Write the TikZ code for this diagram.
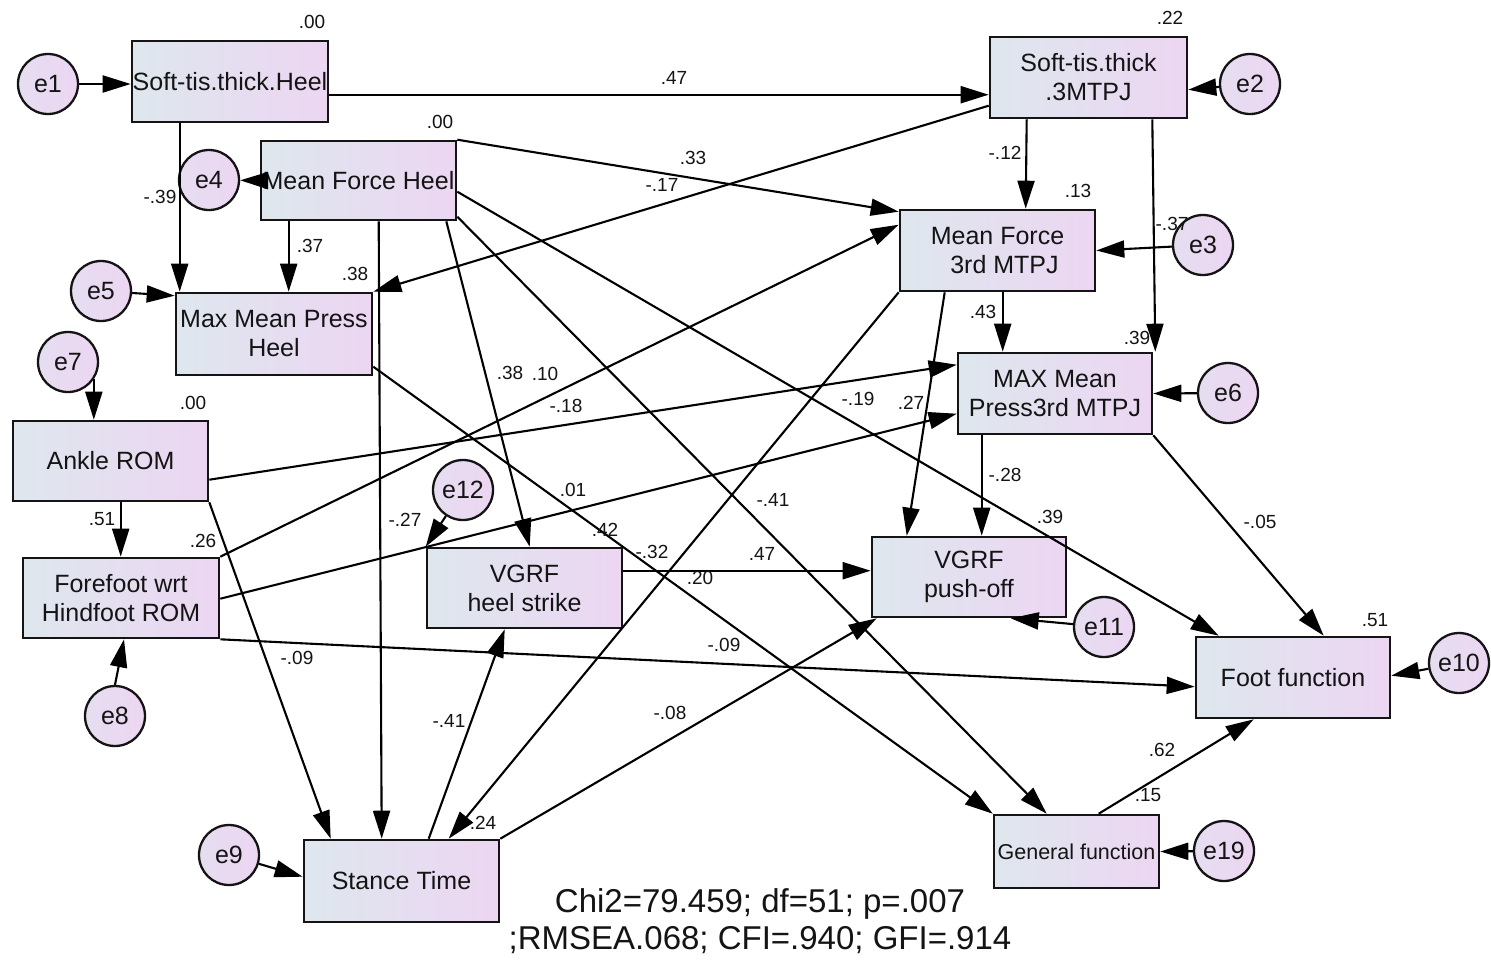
\documentclass[tikz,border=0pt]{standalone}
\usepackage{fontspec}
\setmainfont{Liberation Sans}
\usetikzlibrary{arrows.meta,calc}
\pgfdeclarelayer{bg}
\pgfsetlayers{bg,main}
\definecolor{boxL}{RGB}{222,231,238}
\definecolor{boxR}{RGB}{236,214,242}
\definecolor{ink}{RGB}{20,20,20}

\begin{document}
\begin{tikzpicture}[x=1pt,y=-1pt,
  var/.style={draw=ink, line width=2.6pt, left color=boxL, right color=boxR,
    inner sep=0pt, align=center, text=ink,
    minimum width=195, minimum height=80, font=\fontsize{25}{29}\selectfont},
  err/.style={circle, draw=ink, line width=2.3pt, minimum size=60, inner sep=0pt,
    left color=boxL!45!boxR, right color=boxR, text=ink,
    font=\fontsize{25}{29}\selectfont},
  arr/.style={line width=2.1pt, draw=black, -{Triangle[length=28pt,width=17pt]}},
  coef/.style={font=\fontsize{19}{22}\selectfont, text=ink, inner sep=0pt}
]
\begin{pgfonlayer}{bg}
\fill[white] (0,0) rectangle (1491,962);
\end{pgfonlayer}
\useasboundingbox (0,0) rectangle (1491,962);

% observed variables
\node[var, minimum width=196, minimum height=81] (SH) at (230,81.5) {Soft-tis.thick.Heel};
\node[var, minimum width=197, minimum height=81] (S3) at (1088.5,77.5) {Soft-tis.thick\\.3MTPJ};
\node[var, minimum height=79] (MFH) at (358.5,180.5) {Mean Force Heel};
\node[var, minimum height=81] (MF3) at (997.5,250.5) {Mean Force\\\ \ 3rd MTPJ};
\node[var, minimum width=196, minimum height=82] (MMPH) at (274,334) {Max Mean Press\\Heel};
\node[var, minimum width=194, minimum height=81] (MMP3) at (1055,393.5) {MAX Mean\\Press3rd MTPJ};
\node[var] (AR) at (110.5,461) {Ankle ROM};
\node[var, minimum width=196] (FF) at (121,598) {Forefoot wrt\\Hindfoot ROM};
\node[var] (VHS) at (524.5,588) {VGRF\\heel strike};
\node[var, minimum width=194] (VPO) at (969,577) {VGRF\\push-off};
\node[var, minimum width=194, minimum height=81] (FootF) at (1293,677.5) {Foot function};
\node[var, minimum width=165, minimum height=73, font=\fontsize{21.5}{25}\selectfont] (GF) at (1076.5,851.5) {General function};
\node[var, minimum height=82] (ST) at (401.5,881) {Stance Time};

% error terms
\node[err] (e1) at (48,84) {e1};
\node[err] (e2) at (1250,84) {e2};
\node[err] (e3) at (1203,245) {e3};
\node[err] (e4) at (209,180) {e4};
\node[err] (e5) at (101,291) {e5};
\node[err] (e6) at (1228,393) {e6};
\node[err] (e7) at (68,362) {e7};
\node[err] (e8) at (115,716) {e8};
\node[err] (e9) at (229,855) {e9};
\node[err] (e10) at (1459,663) {e10};
\node[err] (e11) at (1104,627) {e11};
\node[err] (e12) at (463,490) {e12};
\node[err] (e19) at (1224,851) {e19};

% paths
\draw[arr] (e1.east) -- (e1.east -| SH.west);
\draw[arr] ($(SH.north east)+(0,55)$) -- ($(S3.north west)+(0,59)$);
\draw[arr] (e2) -- ($(S3.north east)+(0,54)$);
\draw[arr] ($(SH.south west)+(49,0)$) -- ($(MMPH.north west)+(5,0)$);
\draw[arr] (MFH.west) -- (e4);
\draw[arr] ($(MFH.south west)+(29,0)$) -- ($(MMPH.north west)+(114,0)$);
\draw[arr] (e5) -- ($(MMPH.north west)+(0,4)$);
\draw[arr] ($(S3.north west)+(0,70)$) -- (MMPH.north east);
\draw[arr] (MFH.north east) -- ($(MF3.north west)+(0,3)$);
\draw[arr] ($(S3.south west)+(38,0)$) -- ($(MF3.north west)+(127,0)$);
\draw[arr] ($(S3.south east)+(-36,0)$) -- ($(MMP3.north east)+(2,0)$);
\draw[arr] (e3) -- (MF3.east);
\draw[arr] ($(MF3.south west)+(104,0)$) -- ($(MMP3.north west)+(46,0)$);
\draw[arr] ($(MF3.south west)+(46,0)$) -- ($(VPO.north west)+(36,0)$);
\draw[arr] (MF3.south west) -- ($(ST.north west)+(146,0)$);
\draw[arr] ($(MMP3.south west)+(25,0)$) -- ($(VPO.north west)+(111,0)$);
\draw[arr] (e6) -- (MMP3.east);
\draw[arr] (MMP3.south east) -- ($(FootF.north west)+(129,0)$);
\draw[arr] (e7.-34) -- (e7.-34 |- AR.north);
\draw[arr] ($(AR.north east)+(0,60)$) -- ($(MMP3.north west)+(0,13)$);
\draw[arr] ($(AR.south west)+(109,0)$) -- ($(FF.north west)+(99,0)$);
\draw[arr] (AR.south east) -- ($(ST.north west)+(28,0)$);
\draw[arr] (FF.north east) -- ($(MF3.north west)+(0,16)$);
\draw[arr] ($(FF.north east)+(0,42)$) -- ($(MMP3.north west)+(0,62)$);
\draw[arr] (FF.south east) -- ($(FootF.north west)+(0,51)$);
\draw[arr] (e8.north) -- ($(FF.south)+(3,0)$);
\draw[arr] ($(MFH.south east)+(-11,0)$) -- ($(VHS.north west)+(104,0)$);
\draw[arr] ($(MFH.south west)+(119,0)$) -- ($(ST.north west)+(79,0)$);
\draw[arr] ($(MFH.north east)+(0,52)$) -- ($(FootF.north west)+(24,0)$);
\draw[arr] ($(MFH.north east)+(0,77)$) -- ($(GF.north west)+(54,0)$);
\draw[arr] ($(MMPH.north east)+(0,75)$) -- (GF.north west);
\draw[arr] ($(VHS.north east)+(0,24)$) -- ($(VPO.north west)+(0,35)$);
\draw[arr] ($(ST.north west)+(126,0)$) -- ($(VHS.south west)+(79,0)$);
\draw[arr] (ST.north east) -- ($(VPO.south west)+(6,0)$);
\draw[arr] ($(GF.north west)+(106,0)$) -- ($(FootF.south west)+(59,0)$);
\draw[arr] (e10) -- ($(FootF.north east)+(0,40)$);
\draw[arr] (e11) -- ($(VPO.south west)+(140,0)$);
\draw[arr] (e19) -- (GF.east);
\draw[arr] (e12) -- (VHS.north west);
\draw[arr] (e9) -- ($(ST.north west)+(0,38)$);

% squared multiple correlations
\node[coef] (rSH) at (312,22) {.00};
\node[coef] (rS3) at (1170,18) {.22};
\node[coef] (rMFH) at (440,122) {.00};
\node[coef] (rMF3) at (1078,191) {.13};
\node[coef] (rMMPH) at (355,274) {.38};
\node[coef] (rMMP3) at (1137,338) {.39};
\node[coef] (rAR) at (193,403) {.00};
\node[coef] (rFF) at (203,541) {.26};
\node[coef] (rVHS) at (605,530) {.42};
\node[coef] (rVPO) at (1050,517) {.39};
\node[coef] (rFootF) at (1375,620) {.51};
\node[coef] (rGF) at (1148,795) {.15};
\node[coef] (rST) at (483,823) {.24};

% path coefficients
\node[coef] (c1) at (674,78) {.47};
\node[coef] (c2) at (160,197) {-.39};
\node[coef] (c3) at (693,158) {.33};
\node[coef] (c4) at (662,185) {-.17};
\node[coef] (c5) at (1005,153) {-.12};
\node[coef] (c6) at (1172,224) {-.37};
\node[coef] (c7) at (310,246) {.37};
\node[coef] (c8) at (983,312) {.43};
\node[coef] (c9) at (510,373) {.38};
\node[coef] (c10) at (545,374) {.10};
\node[coef] (c11) at (566,406) {-.18};
\node[coef] (c12) at (858,399) {-.19};
\node[coef] (c13) at (911,403) {.27};
\node[coef] (c14) at (573,490) {.01};
\node[coef] (c15) at (773,500) {-.41};
\node[coef] (c16) at (1005,475) {-.28};
\node[coef] (c17) at (102,519) {.51};
\node[coef] (c18) at (1260,522) {-.05};
\node[coef] (c19) at (405,520) {-.27};
\node[coef] (c20) at (652,552) {-.32};
\node[coef] (c21) at (762,554) {.47};
\node[coef] (c22) at (700,578) {.20};
\node[coef] (c23) at (724,645) {-.09};
\node[coef] (c24) at (297,658) {-.09};
\node[coef] (c25) at (449,721) {-.41};
\node[coef] (c26) at (670,713) {-.08};
\node[coef] (c27) at (1162,750) {.62};

% fit statistics
\node[align=center, text=ink, inner sep=0pt, font=\fontsize{33}{37}\selectfont] (fit) at (760,921)
  {Chi2=79.459; df=51; p=.007\\;RMSEA.068; CFI=.940; GFI=.914};
\end{tikzpicture}
\end{document}
